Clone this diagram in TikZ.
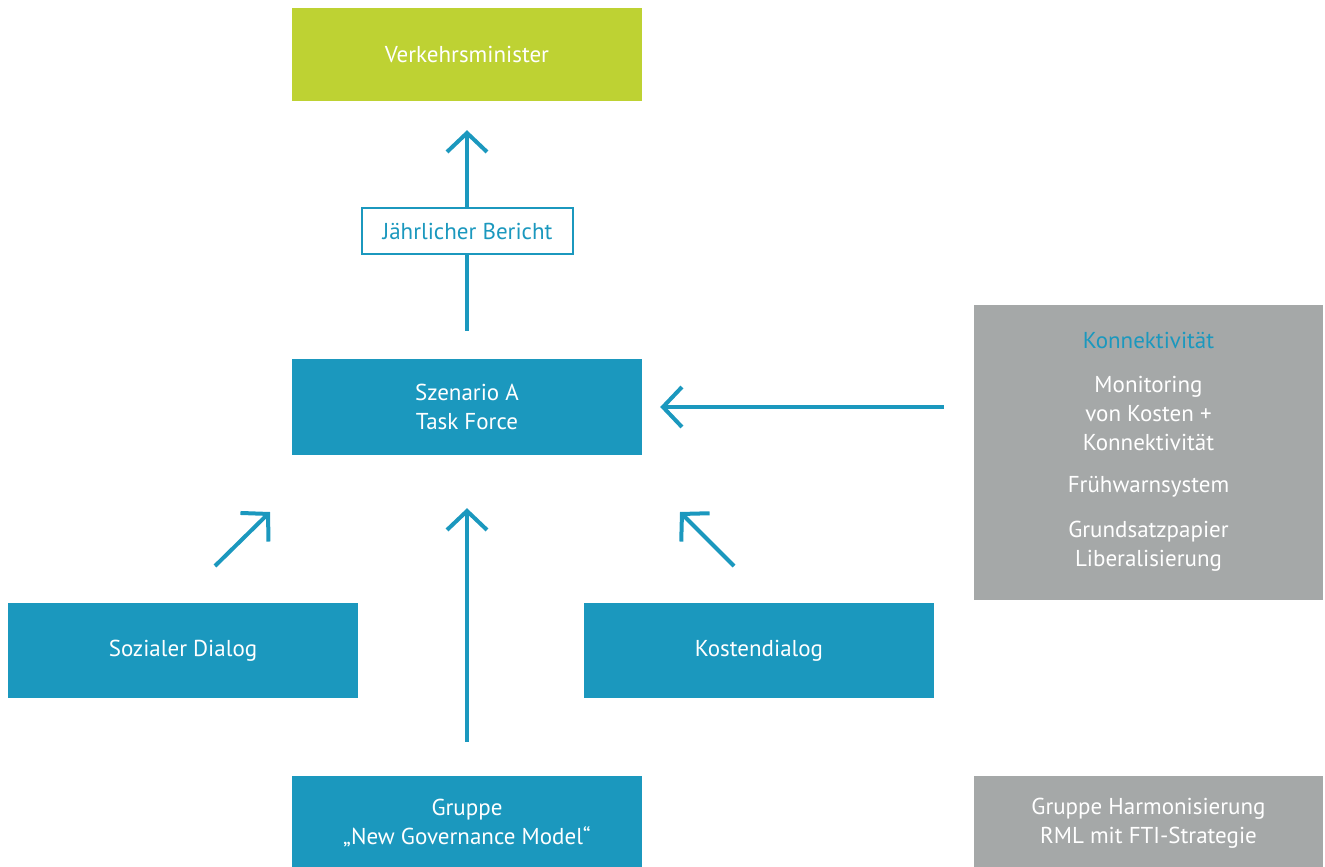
\documentclass[tikz,border=0pt]{standalone}
\usepackage{fontspec}
\setmainfont{PT Sans}
\usetikzlibrary{arrows.meta}
\definecolor{tblue}{HTML}{1B98BE}
\definecolor{tlime}{HTML}{BED233}
\definecolor{tgrey}{HTML}{A5A8A8}
\begin{document}
\begin{tikzpicture}[x=1pt,y=-1pt,
  font=\fontsize{23}{29}\selectfont,
  bluebox/.style={fill=tblue,text=white,minimum width=350pt,minimum height=95pt,inner sep=0pt,align=center},
  limebox/.style={fill=tlime,text=white,minimum width=350pt,minimum height=93pt,inner sep=0pt,align=center},
  greybox/.style={fill=tgrey,text=white,inner sep=0pt,align=center},
  outbox/.style={draw=tblue,line width=2.5pt,fill=white,text=tblue,minimum width=211pt,minimum height=46pt,inner sep=0pt},
  arr/.style={draw=tblue,line width=4pt,-{Straight Barb[length=19pt,width=40pt]}}]
\useasboundingbox (0,0) rectangle (1325,867);
\node[limebox] (vm) at (467,54.5) {Verkehrsminister};
\node[bluebox,minimum height=96pt] (sz) at (467,407) {Szenario A\\Task Force};
\node[bluebox] (sd) at (183,650.5) {Sozialer Dialog};
\node[bluebox] (kd) at (759,650.5) {Kostendialog};
\node[bluebox,minimum height=94pt] (ng) at (467,823) {Gruppe\\„New Governance Model“};
\node[greybox,minimum width=349pt,minimum height=295pt] (gk) at (1148.5,452.5) {};
\node[text=tblue] (gkh) at (1148.5,340) {Konnektivität};
\node[text=white,align=center] (gkt) at (1148.5,413) {Monitoring\\von Kosten +\\Konnektivität};
\node[text=white] (gkf) at (1148.5,487) {Frühwarnsystem};
\node[text=white,align=center] (gkg) at (1148.5,546) {Grundsatzpapier\\Liberalisierung};
\node[greybox,minimum width=349pt,minimum height=94pt] (gh) at (1148.5,823) {Gruppe Harmonisierung\\RML mit FTI-Strategie};
\draw[arr,shorten <=28pt,shorten >=29pt] (sz.north) -- (vm.south);
\node[outbox] (jb) at (467.5,231) {Jährlicher Bericht};
\draw[arr,shorten <=30pt,shorten >=18pt] (gk.west |- sz.east) -- (sz.east);
\draw[arr,shorten <=34pt,shorten >=53pt] (ng.north) -- (sz.south);
\coordinate (a1) at (215,566);
\coordinate (b1) at (270,512);
\coordinate (a2) at (734,566);
\coordinate (b2) at (680,512);
\draw[arr] (a1) -- (b1);
\draw[arr] (a2) -- (b2);
\end{tikzpicture}
\end{document}
